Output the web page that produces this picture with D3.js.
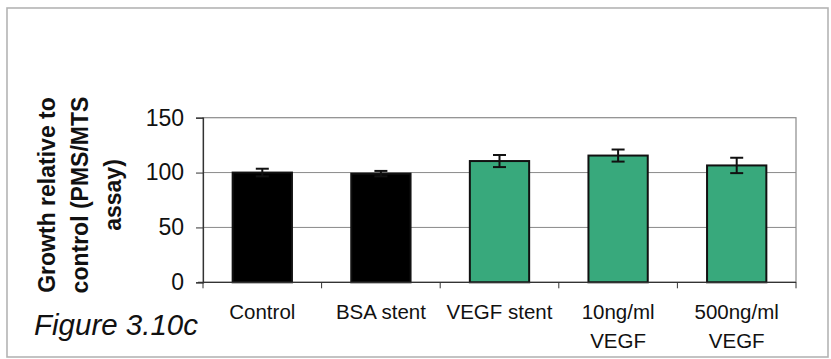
<!DOCTYPE html>
<html>
<head>
<meta charset="utf-8">
<script src="https://cdn.jsdelivr.net/npm/d3@7"></script>
<style>
  html, body { margin: 0; padding: 0; background: #fff; }
  svg { display: block; }
  text { font-family: "Liberation Sans", Arial, sans-serif; fill: #111; }
</style>
</head>
<body>
<svg id="chart" width="831" height="359"></svg>
<script>
// Growth of cells relative to control, PMS/MTS assay
const categories = ["Control", "BSA stent", "VEGF stent", "10ng/ml VEGF", "500ng/ml VEGF"];
const labelLines = [["Control"], ["BSA stent"], ["VEGF stent"], ["10ng/ml", "VEGF"], ["500ng/ml", "VEGF"]];
const growth = [100, 99, 110.5, 115.5, 106.5];
const errors = [3.5, 2.5, 5.5, 5.5, 7];
const barColors = ["#000000", "#000000", "#38a97c", "#38a97c", "#38a97c"];
const yTicks = [0, 50, 100, 150];
const yTitle = ["Growth relative to", "control (PMS/MTS", "assay)"];
const caption = "Figure 3.10c";

const svg = d3.select("#chart");
const plot = { left: 203, right: 796, top: 117.7, bottom: 282.3 };

// outer frame
svg.append("rect")
  .attr("x", 7).attr("y", 8).attr("width", 821).attr("height", 349)
  .attr("fill", "#fff").attr("stroke", "#b4b4b4").attr("stroke-width", 1.6);

const x = d3.scaleBand()
  .domain(categories)
  .range([plot.left, plot.right])
  .paddingInner(0.5).paddingOuter(0.25);

const y = d3.scaleLinear().domain([0, 150]).range([plot.bottom, plot.top]);

// plot area border (top / right) and gridlines
svg.append("rect")
  .attr("x", plot.left).attr("y", plot.top)
  .attr("width", plot.right - plot.left).attr("height", plot.bottom - plot.top)
  .attr("fill", "none").attr("stroke", "#8a8a8a").attr("stroke-width", 1.2);

svg.append("g")
  .selectAll("line")
  .data(yTicks.filter(t => t > 0 && t < 150))
  .join("line")
  .attr("x1", plot.left).attr("x2", plot.right)
  .attr("y1", d => y(d)).attr("y2", d => y(d))
  .attr("stroke", "#8a8a8a").attr("stroke-width", 1);

// bars
svg.append("g")
  .selectAll("rect")
  .data(categories)
  .join("rect")
  .attr("x", d => x(d))
  .attr("width", x.bandwidth())
  .attr("y", (d, i) => y(growth[i]))
  .attr("height", (d, i) => y(0) - y(growth[i]))
  .attr("fill", (d, i) => barColors[i])
  .attr("stroke", "#111")
  .attr("stroke-width", 2);

// error bars
const eb = svg.append("g").attr("stroke", "#111").attr("stroke-width", 2);
categories.forEach((c, i) => {
  const cx = x(c) + x.bandwidth() / 2;
  const hi = y(growth[i] + errors[i]);
  const lo = y(growth[i] - errors[i]);
  eb.append("line").attr("x1", cx).attr("x2", cx).attr("y1", hi).attr("y2", lo);
  eb.append("line").attr("x1", cx - 6.5).attr("x2", cx + 6.5).attr("y1", hi).attr("y2", hi);
  eb.append("line").attr("x1", cx - 6.5).attr("x2", cx + 6.5).attr("y1", lo).attr("y2", lo);
});

// y axis
const yAxis = svg.append("g")
  .attr("transform", `translate(${plot.left},0)`)
  .call(d3.axisLeft(y).tickValues(yTicks).tickSize(7).tickPadding(12));
yAxis.select(".domain").attr("stroke", "#333").attr("stroke-width", 1.2);
yAxis.selectAll(".tick line").attr("stroke", "#333");
yAxis.selectAll(".tick text")
  .attr("font-size", 23).attr("fill", "#111")
  .attr("font-family", "Liberation Sans, Arial, sans-serif");

// x axis with ticks at category boundaries
const xAxisG = svg.append("g").attr("transform", `translate(0,${plot.bottom})`);
xAxisG.append("line")
  .attr("x1", plot.left - 5).attr("x2", plot.right)
  .attr("stroke", "#333").attr("stroke-width", 1.2);
const bounds = d3.range(categories.length + 1)
  .map(i => plot.left + i * (plot.right - plot.left) / categories.length);
xAxisG.selectAll("line.b")
  .data(bounds)
  .join("line")
  .attr("class", "b")
  .attr("x1", d => d).attr("x2", d => d)
  .attr("y1", 0).attr("y2", 6)
  .attr("stroke", "#333").attr("stroke-width", 1);

// category labels
const lab = svg.append("g");
categories.forEach((c, i) => {
  const t = lab.append("text")
    .attr("x", x(c) + x.bandwidth() / 2)
    .attr("y", 319)
    .attr("text-anchor", "middle")
    .attr("font-size", 20.5);
  labelLines[i].forEach((ln, k) => {
    t.append("tspan")
      .attr("x", x(c) + x.bandwidth() / 2)
      .attr("dy", k === 0 ? 0 : 29)
      .text(ln);
  });
});

// y axis title (three rotated lines)
const titleBaselines = [55, 88, 121];
yTitle.forEach((ln, k) => {
  svg.append("text")
    .attr("transform", `translate(${titleBaselines[k]},195) rotate(-90)`)
    .attr("text-anchor", "middle")
    .attr("font-size", 23)
    .attr("font-weight", "bold")
    .text(ln);
});

// caption
svg.append("text")
  .attr("x", 34).attr("y", 335)
  .attr("font-size", 29.5)
  .attr("font-style", "italic")
  .text(caption);
</script>
</body>
</html>
